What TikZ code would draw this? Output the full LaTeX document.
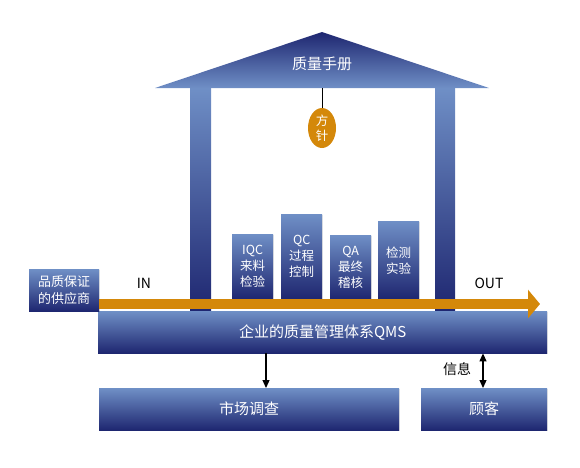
\documentclass[tikz,border=0pt]{standalone}
\usepackage{fontspec}
\setmainfont{Noto Sans CJK SC}
\usetikzlibrary{arrows.meta,shapes.geometric,shadows}

\definecolor{lightblue}{HTML}{6F8FC6}
\definecolor{darkblue}{HTML}{1E2670}
\definecolor{gold}{HTML}{D4880A}

\tikzset{
  bluebox/.style={rectangle, inner sep=0pt, anchor=north west, top color=lightblue, bottom color=darkblue,
    text=white, align=center, font=\fontsize{15}{18}\selectfont,
    drop shadow={shadow xshift=1pt, shadow yshift=-1pt, opacity=0.2}},
  smallbox/.style={bluebox, minimum width=41pt, font=\fontsize{12.5}{16}\selectfont},
  pillar/.style={top color=lightblue, bottom color=darkblue},
  link/.style={line width=1.2pt, -{Triangle[length=8pt,width=7pt]}},
}

\begin{document}
\begin{tikzpicture}[x=1pt, y=-1pt]
\useasboundingbox (0,0) rectangle (580,467);

% roof and pillars
\shade[top color=darkblue, bottom color=lightblue] (155,88) -- (322,32) -- (489,88) -- cycle;
\node[text=white, font=\fontsize{15}{18}\selectfont] (manual) at (322,64) {质量手册};
\shade[pillar] (190,88) rectangle (211,312);
\shade[pillar] (435,88) rectangle (455,312);

% pendulum
\node[ellipse, fill=gold, inner sep=0pt, minimum width=28pt, minimum height=40pt, text=white,
  align=center, font=\fontsize{12.5}{15}\selectfont] (policy) at (322,128) {方\\针};
\draw[line width=1pt] (322,88) -- (policy.north);

% four processes
\node[smallbox, minimum height=65pt] (iqc) at (232,234) {IQC\\来料\\检验};
\node[smallbox, minimum height=85pt] (qc) at (281,214) {QC\\过程\\控制};
\node[smallbox, minimum height=64pt] (qa) at (330,235) {QA\\最终\\稽核};
\node[smallbox, minimum height=78pt] (lab) at (378,221) {检测\\实验};

% base and outside boxes
\node[bluebox, minimum width=449pt, minimum height=42pt] (qms) at (98,311) {企业的质量管理体系QMS};
\node[bluebox, minimum width=70pt, minimum height=42pt, font=\fontsize{13}{17}\selectfont] (supplier) at (29,269) {品质保证\\的供应商};
\node[bluebox, minimum width=300pt, minimum height=42pt] (market) at (99,388) {市场调查};
\node[bluebox, minimum width=126pt, minimum height=42pt] (customer) at (421,388) {顾客};

% main flow
\coordinate (flowin) at (99,304);
\coordinate (flowout) at (540,304);
\draw[gold, line width=10pt, -{Triangle[length=12pt,width=28pt]}] (flowin) -- (flowout);
\node[font=\fontsize{14}{17}\selectfont] (in) at (144,283) {IN};
\node[font=\fontsize{14}{17}\selectfont] (out) at (489,283) {OUT};

% links
\coordinate (down) at (266,353);
\draw[link] (down) -- (down |- market.north);
\draw[link, {Triangle[length=8pt,width=7pt]}-{Triangle[length=8pt,width=7pt]}] (customer.north -| 483,0) -- (qms.south -| 483,0);
\node[font=\fontsize{14}{17}\selectfont] (info) at (457,369) {信息};
\end{tikzpicture}
\end{document}
